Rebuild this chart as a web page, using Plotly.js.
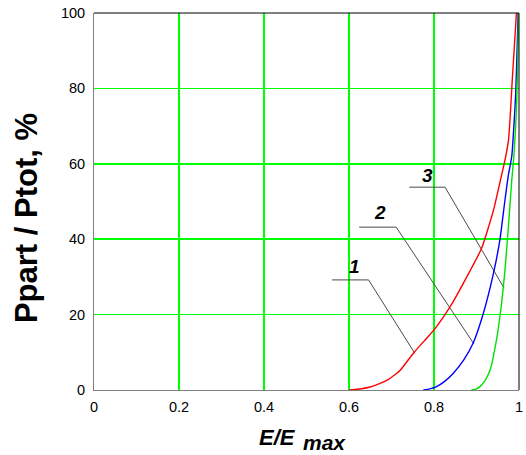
<!DOCTYPE html>
<html><head><meta charset="utf-8">
<script src="https://cdn.plot.ly/plotly-3.0.1.min.js"></script>
<style>body{margin:0;background:#fff}#chart{width:526px;height:455px}</style>
</head><body><div id="chart"></div>
<script>
// Curve 1 (red)
const e1 = [0.600, 0.620, 0.650, 0.690, 0.720, 0.751, 0.780, 0.802, 0.838, 0.869, 0.912, 0.940, 0.959, 0.967, 0.975, 0.979, 0.984, 0.989, 0.994];
const p1 = [0, 0.2, 0.8, 2.6, 5.2, 9.7, 13.4, 16.2, 22.1, 28.3, 37.6, 47.7, 57.0, 61, 66, 72, 82, 91, 100];
// Curve 2 (blue)
const e2 = [0.775, 0.790, 0.806, 0.825, 0.845, 0.870, 0.892, 0.916, 0.940, 0.955, 0.967, 0.975, 0.983, 0.988, 0.992, 0.996, 0.998];
const p2 = [0, 0.3, 0.9, 2.3, 4.4, 8.0, 12.4, 20.3, 31.0, 39.8, 50.4, 57.0, 62, 70, 78, 92, 100];
// Curve 3 (green)
const e3 = [0.888, 0.900, 0.908, 0.920, 0.932, 0.947, 0.959, 0.967, 0.975, 0.983, 0.988, 0.993, 0.997, 0.999];
const p3 = [0, 0.3, 0.9, 2.5, 5.3, 13.3, 23.0, 31.8, 43.3, 55.7, 62, 72, 86, 100];
// Curve labels and leader lines
const labels = ["1", "2", "3"];
const labelX = [0.613, 0.674, 0.785];
const labelY = [32.8, 47.1, 57.0];
const leaderX = [[0.560, 0.646, 0.755], [0.624, 0.711, 0.894], [0.742, 0.826, 0.965]];
const leaderY = [[29.2, 29.2, 9.7], [43.2, 43.2, 12.2], [53.8, 53.8, 27.0]];
const xTicks = [0, 0.2, 0.4, 0.6, 0.8, 1];
const xTickText = ["0", "0.2", "0.4", "0.6", "0.8", "1"];
const yTicks = [0, 20, 40, 60, 80, 100];

const font = "Liberation Sans, Arial, sans-serif";
const traces = [];
leaderX.forEach((lx, i) => traces.push({
  x: lx, y: leaderY[i], mode: "lines", type: "scatter", cliponaxis: false,
  line: {color: "#4a4a4a", width: 1}, hoverinfo: "skip", showlegend: false
}));
const curveLine = (c) => ({color: c, width: 1.4, shape: "spline", smoothing: 0.5});
traces.push({x: e1, y: p1, mode: "lines", type: "scatter", line: curveLine("#ff0000"), showlegend: false, cliponaxis: false});
traces.push({x: e2, y: p2, mode: "lines", type: "scatter", line: curveLine("#0000ff"), showlegend: false, cliponaxis: false});
traces.push({x: e3, y: p3, mode: "lines", type: "scatter", line: curveLine("#00e000"), showlegend: false, cliponaxis: false});

const annotations = labels.map((t, i) => ({
  x: labelX[i], y: labelY[i], xref: "x", yref: "y", text: "<b><i>" + t + "</i></b>",
  showarrow: false, font: {family: font, size: 19, color: "#000"}
}));
annotations.push({
  xref: "paper", yref: "paper", x: -0.16, y: 0.456, xanchor: "center", yanchor: "middle",
  text: "<b>Ppart / Ptot, %</b>", textangle: -90, showarrow: false,
  font: {family: font, size: 31, color: "#000"}
});
annotations.push({
  xref: "paper", yref: "paper", x: 0.48, y: -0.1247, xanchor: "right", yanchor: "middle",
  text: "<b><i>E/E</i></b>", showarrow: false, font: {family: font, size: 22, color: "#000"}
});
annotations.push({
  xref: "paper", yref: "paper", x: 0.487, y: -0.138, xanchor: "left", yanchor: "middle",
  text: "<b><i>max</i></b>", showarrow: false, font: {family: font, size: 21, color: "#000"}
});

const layout = {
  width: 526, height: 455,
  margin: {l: 94, r: 7, t: 13, b: 65},
  paper_bgcolor: "#fff", plot_bgcolor: "#fff",
  showlegend: false,
  xaxis: {
    range: [0, 1], tickvals: xTicks, ticktext: xTickText, ticks: "",
    showgrid: true, gridcolor: "#00ff00", gridwidth: 1.5, zeroline: false,
    showline: true, linecolor: "#808080", linewidth: 1,
    tickfont: {family: font, size: 14.5, color: "#000"}, ticklabelstandoff: 4
  },
  yaxis: {
    range: [0, 100], tickvals: yTicks, ticks: "",
    showgrid: true, gridcolor: "#00ff00", gridwidth: 1.5, zeroline: false,
    showline: true, linecolor: "#808080", linewidth: 1,
    tickfont: {family: font, size: 14.5, color: "#000"}, ticklabelstandoff: 5
  },
  shapes: [
    {type: "line", xref: "paper", yref: "paper", x0: 0, x1: 1, y0: 1, y1: 1, line: {color: "#000", width: 1}, layer: "above"},
    {type: "line", xref: "paper", yref: "paper", x0: 1, x1: 1, y0: 0, y1: 1, line: {color: "#000", width: 1}, layer: "above"}
  ],
  annotations: annotations
};
Plotly.newPlot("chart", traces, layout, {staticPlot: true});
</script></body></html>
